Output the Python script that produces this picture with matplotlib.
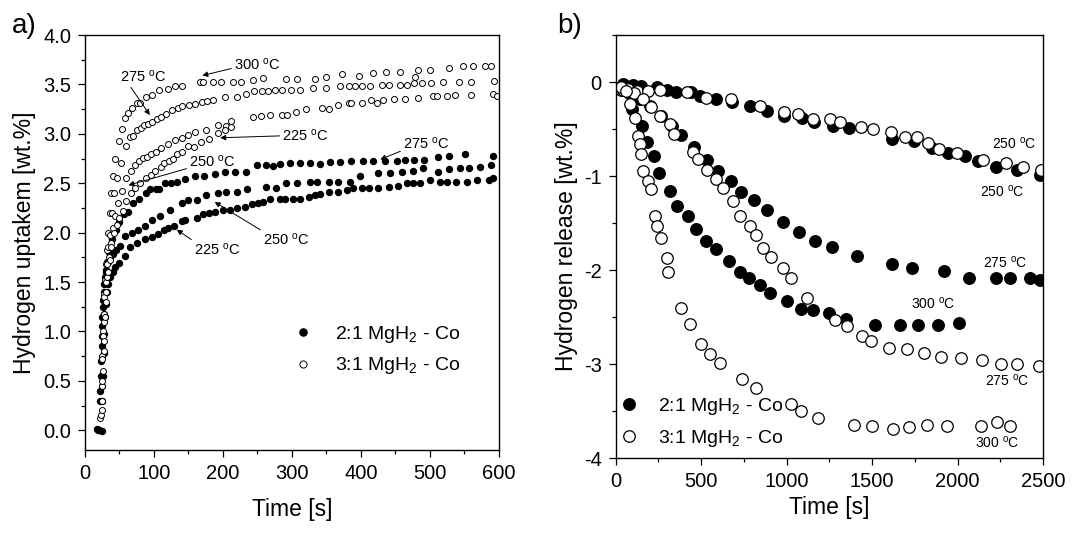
import matplotlib
matplotlib.use("Agg")
import matplotlib.pyplot as plt
from matplotlib.ticker import MultipleLocator

plt.rcParams["font.family"] = ["Liberation Sans", "DejaVu Sans"]
plt.rcParams["mathtext.fontset"] = "custom"
plt.rcParams["mathtext.rm"] = "Liberation Sans"
plt.rcParams["mathtext.it"] = "Liberation Sans:italic"
plt.rcParams["axes.unicode_minus"] = False

# ---- panel a) hydrogen uptake, time [s] vs wt.% ----
f225_t = [18, 21, 24, 25, 26, 27, 28, 29, 30, 32, 34, 36, 40, 43, 50, 58, 65, 75, 87, 97,
          106, 114, 121, 129, 140, 145, 162, 171, 180, 188, 200, 210, 220, 232, 242, 251, 258, 268, 282, 290,
          301, 312, 324, 333, 341, 353, 367, 380, 389, 401, 412, 425, 440, 454, 467, 476, 486, 500, 514, 524,
          538, 553, 568, 585, 592]
f225_v = [0.01, 0.00, -0.01, 0.30, 0.55, 0.78, 0.97, 1.15, 1.28, 1.40, 1.48, 1.55, 1.60, 1.65, 1.69, 1.76, 1.85, 1.89, 1.94, 1.96,
          1.99, 2.03, 2.05, 2.07, 2.12, 2.13, 2.15, 2.19, 2.20, 2.21, 2.23, 2.23, 2.25, 2.26, 2.29, 2.30, 2.31, 2.34, 2.34, 2.34,
          2.34, 2.34, 2.36, 2.38, 2.39, 2.41, 2.41, 2.43, 2.45, 2.45, 2.45, 2.45, 2.46, 2.47, 2.50, 2.50, 2.50, 2.53, 2.51, 2.51,
          2.51, 2.51, 2.53, 2.53, 2.55]

f250_t = [19, 22, 23, 24, 25, 26, 27, 29, 31, 33, 36, 40, 45, 51, 58, 68, 77, 87, 97, 109,
          123, 140, 150, 162, 175, 193, 205, 221, 235, 263, 277, 292, 307, 326, 336, 353, 367, 384, 399, 425,
          442, 459, 476, 490, 511, 527, 543, 557, 572, 588]
f250_v = [0.00, 0.30, 0.55, 0.85, 1.05, 1.25, 1.40, 1.55, 1.62, 1.70, 1.75, 1.78, 1.82, 1.86, 1.97, 2.00, 2.03, 2.07, 2.13, 2.17,
          2.23, 2.30, 2.33, 2.33, 2.38, 2.40, 2.41, 2.41, 2.44, 2.46, 2.45, 2.50, 2.50, 2.51, 2.51, 2.51, 2.51, 2.51, 2.57, 2.60,
          2.60, 2.61, 2.62, 2.65, 2.61, 2.64, 2.65, 2.65, 2.66, 2.68]

f275_t = [20, 22, 23, 24, 25, 26, 28, 30, 32, 35, 39, 45, 50, 57, 63, 70, 79, 88, 94, 103,
          108, 116, 125, 133, 145, 159, 173, 188, 203, 217, 234, 249, 262, 273, 283, 297, 311, 326, 341, 355,
          370, 386, 403, 418, 435, 452, 464, 477, 492, 512, 528, 551, 591]
f275_v = [0.00, 0.40, 0.70, 0.95, 1.15, 1.32, 1.48, 1.60, 1.70, 1.80, 1.94, 2.03, 2.11, 2.19, 2.21, 2.30, 2.34, 2.40, 2.44, 2.44,
          2.44, 2.50, 2.50, 2.51, 2.54, 2.57, 2.57, 2.59, 2.61, 2.61, 2.61, 2.68, 2.68, 2.67, 2.69, 2.70, 2.70, 2.70, 2.69, 2.71,
          2.71, 2.72, 2.72, 2.72, 2.72, 2.72, 2.73, 2.74, 2.74, 2.77, 2.78, 2.80, 2.78]

o300_t = [22, 24, 25, 26, 27, 28, 29, 30, 32, 34, 36, 38, 40, 43, 49, 54, 58, 62, 68, 75,
          80, 89, 97, 108, 120, 130, 140, 167, 171, 186, 197, 214, 226, 243, 258, 292, 307, 333, 350, 373,
          397, 418, 436, 456, 478, 482, 500, 527, 548, 562, 580, 589]
o300_v = [0.12, 0.45, 0.75, 1.00, 1.18, 1.38, 1.52, 1.68, 1.82, 2.00, 2.20, 2.40, 2.57, 2.75, 2.93, 3.05, 3.16, 3.21, 3.26, 3.31,
          3.31, 3.37, 3.39, 3.44, 3.45, 3.48, 3.48, 3.52, 3.52, 3.52, 3.52, 3.52, 3.52, 3.54, 3.57, 3.55, 3.55, 3.55, 3.58, 3.61,
          3.59, 3.62, 3.63, 3.63, 3.58, 3.65, 3.65, 3.67, 3.69, 3.69, 3.69, 3.69]

o275_t = [23, 24, 25, 26, 27, 28, 30, 32, 34, 36, 39, 42, 46, 52, 59, 65, 70, 75, 81, 86,
          92, 97, 104, 110, 117, 126, 135, 141, 151, 159, 169, 177, 186, 203, 221, 233, 245, 256, 265, 275,
          285, 298, 312, 330, 349, 370, 382, 392, 401, 413, 430, 441, 456, 467, 477, 489, 501, 519, 542, 560,
          593]
o275_v = [0.15, 0.45, 0.72, 0.95, 1.18, 1.35, 1.50, 1.68, 1.85, 1.98, 2.20, 2.40, 2.55, 2.70, 2.88, 2.97, 2.98, 3.04, 3.06, 3.09,
          3.10, 3.12, 3.15, 3.17, 3.20, 3.24, 3.26, 3.28, 3.29, 3.30, 3.32, 3.33, 3.34, 3.37, 3.37, 3.40, 3.43, 3.43, 3.43, 3.44,
          3.44, 3.44, 3.44, 3.46, 3.46, 3.48, 3.48, 3.48, 3.48, 3.48, 3.49, 3.49, 3.49, 3.49, 3.51, 3.51, 3.51, 3.52, 3.52, 3.52,
          3.53]

o225_t = [24, 25, 27, 28, 30, 32, 35, 38, 40, 44, 48, 54, 60, 66, 72, 78, 84, 90, 96, 103,
          110, 120, 130, 140, 150, 160, 176, 193, 205, 211, 243, 255, 268, 286, 293, 306, 320, 343, 353, 366,
          383, 386, 401, 415, 423, 432, 448, 464, 482, 504, 510, 525, 536, 560, 592, 597]
o225_v = [0.20, 0.50, 0.80, 1.10, 1.30, 1.55, 1.75, 1.90, 2.05, 2.17, 2.30, 2.42, 2.55, 2.62, 2.68, 2.72, 2.76, 2.77, 2.80, 2.82,
          2.86, 2.90, 2.94, 2.96, 2.99, 3.02, 3.04, 3.09, 3.08, 3.13, 3.17, 3.18, 3.19, 3.19, 3.19, 3.22, 3.25, 3.26, 3.25, 3.29,
          3.31, 3.31, 3.31, 3.34, 3.31, 3.34, 3.35, 3.35, 3.36, 3.38, 3.38, 3.38, 3.39, 3.39, 3.40, 3.38]

o250_t = [25, 26, 28, 29, 31, 33, 36, 38, 42, 46, 50, 55, 60, 66, 72, 80, 88, 95, 102, 110,
          114, 122, 128, 133, 140, 150, 158, 168, 180, 193, 203, 211]
o250_v = [0.30, 0.60, 0.90, 1.15, 1.40, 1.60, 1.72, 1.85, 2.00, 2.08, 2.15, 2.22, 2.32, 2.40, 2.45, 2.50, 2.55, 2.58, 2.62, 2.66,
          2.70, 2.72, 2.75, 2.80, 2.82, 2.88, 2.87, 2.92, 2.95, 3.01, 3.04, 3.07]

# ---- panel b) hydrogen release ----
rf250_t = [45, 60, 72, 100, 150, 244, 302, 355, 439, 491, 589, 682, 784, 883, 985, 1092, 1160, 1273, 1365, 1615,
           1745, 1849, 1944, 2042, 2120, 2227, 2350, 2482]
rf250_v = [-0.02, -0.05, -0.07, -0.03, -0.04, -0.05, -0.08, -0.11, -0.11, -0.15, -0.18, -0.21, -0.25, -0.31, -0.36, -0.38,
           -0.43, -0.47, -0.49, -0.61, -0.63, -0.70, -0.76, -0.79, -0.84, -0.90, -0.94, -0.99]

ro250_t = [30, 45, 72, 127, 191, 259, 415, 530, 673, 844, 985, 1069, 1156, 1254, 1312, 1433, 1507, 1613, 1691, 1765,
           1829, 1891, 1999, 2149, 2282, 2385, 2486]
ro250_v = [-0.08, -0.07, -0.07, -0.10, -0.10, -0.09, -0.11, -0.17, -0.18, -0.26, -0.32, -0.34, -0.39, -0.39, -0.43, -0.48,
           -0.50, -0.53, -0.58, -0.59, -0.65, -0.71, -0.75, -0.83, -0.86, -0.90, -0.94]

rf275_t = [55, 90, 140, 200, 265, 330, 380, 458, 536, 599, 673, 731, 809, 887, 979, 1073, 1166, 1264, 1414, 1619,
           1736, 1921, 2067, 2227, 2305, 2424, 2480]
rf275_v = [-0.05, -0.12, -0.18, -0.26, -0.36, -0.47, -0.56, -0.69, -0.83, -0.95, -1.05, -1.17, -1.25, -1.36, -1.49, -1.60,
           -1.69, -1.76, -1.85, -1.94, -1.98, -2.01, -2.08, -2.08, -2.08, -2.08, -2.11]

ro275_t = [40, 110, 160, 205, 257, 316, 341, 452, 482, 536, 585, 628, 688, 727, 784, 819, 864, 907, 979, 1024,
           1121, 1281, 1351, 1439, 1495, 1598, 1706, 1804, 1901, 2018, 2145, 2252, 2350, 2477]
ro275_v = [-0.09, -0.12, -0.18, -0.27, -0.36, -0.45, -0.55, -0.74, -0.82, -0.94, -1.03, -1.13, -1.27, -1.42, -1.53, -1.63,
           -1.77, -1.86, -1.98, -2.08, -2.30, -2.53, -2.60, -2.70, -2.75, -2.83, -2.84, -2.88, -2.92, -2.94, -2.96, -3.00,
           -3.00, -3.02]

rf300_t = [50, 75, 97, 152, 182, 223, 256, 316, 359, 423, 470, 526, 588, 663, 728, 781, 844, 900, 1003, 1084,
           1156, 1248, 1346, 1517, 1663, 1771, 1888, 2009]
rf300_v = [-0.03, -0.12, -0.29, -0.47, -0.64, -0.79, -0.97, -1.16, -1.32, -1.42, -1.56, -1.69, -1.78, -1.90, -2.02, -2.09,
           -2.16, -2.24, -2.33, -2.41, -2.42, -2.46, -2.52, -2.59, -2.59, -2.59, -2.59, -2.56]

ro300_t = [29, 60, 84, 111, 131, 140, 150, 160, 191, 205, 228, 244, 263, 298, 308, 384, 433, 501, 552, 610,
           737, 823, 1024, 1082, 1186, 1394, 1502, 1625, 1715, 1823, 1936, 2135, 2233, 2307]
ro300_v = [-0.05, -0.10, -0.23, -0.38, -0.57, -0.66, -0.77, -0.95, -1.05, -1.14, -1.43, -1.53, -1.66, -1.87, -2.02, -2.40,
           -2.57, -2.79, -2.89, -2.99, -3.16, -3.25, -3.43, -3.50, -3.57, -3.65, -3.66, -3.69, -3.67, -3.65, -3.66, -3.66,
           -3.62, -3.66]

LBL_21 = "2:1 MgH$_2$ - Co"
LBL_31 = "3:1 MgH$_2$ - Co"
DEG = " $^{\\mathrm{o}}$C"


def style_axis(ax, xmaj, xmin, ymaj, ymin):
    ax.xaxis.set_major_locator(MultipleLocator(xmaj))
    ax.xaxis.set_minor_locator(MultipleLocator(xmin))
    ax.yaxis.set_major_locator(MultipleLocator(ymaj))
    ax.yaxis.set_minor_locator(MultipleLocator(ymin))
    ax.tick_params(which="both", direction="out", top=False, right=False, width=0.9)
    ax.tick_params(which="major", length=5, labelsize=14.5, pad=5)
    ax.tick_params(which="minor", length=3)
    for s in ax.spines.values():
        s.set_linewidth(1.0)


fig = plt.figure(figsize=(10.88, 5.43), dpi=100)
ax1 = fig.add_axes([0.0781, 0.1713, 0.3805, 0.7642])
ax2 = fig.add_axes([0.5659, 0.1565, 0.3927, 0.779])

# panel a
ms_a = 4.3
ax1.plot(f225_t, f225_v, "o", ms=ms_a, color="black", label=LBL_21)
ax1.plot(f250_t, f250_v, "o", ms=ms_a, color="black")
ax1.plot(f275_t, f275_v, "o", ms=ms_a, color="black")
open_a = dict(ms=ms_a, mfc="white", mec="black", mew=0.7, ls="none", marker="o")
ax1.plot(o300_t, o300_v, label=LBL_31, **open_a)
ax1.plot(o275_t, o275_v, **open_a)
ax1.plot(o225_t, o225_v, **open_a)
ax1.plot(o250_t, o250_v, **open_a)

ax1.set_xlim(0, 600)
ax1.set_ylim(-0.2, 4.0)
style_axis(ax1, 100, 50, 0.5, 0.25)
ax1.yaxis.set_major_formatter(matplotlib.ticker.FormatStrFormatter("%.1f"))
ax1.set_xlabel("Time [s]", fontsize=16.5, labelpad=11)
ax1.set_ylabel("Hydrogen uptakem [wt.%]", fontsize=16.5, labelpad=5)

arrow = dict(arrowstyle="-|>", color="black", lw=0.7, mutation_scale=8, shrinkA=0, shrinkB=0)
notes_a = [
    ("300", (250, 3.70), (170, 3.59), (0.0, 0.3)),
    ("275", (84, 3.58), (94, 3.19), (0.2, 0.0)),
    ("225", (320, 2.98), (196, 2.96), (0.0, 0.5)),
    ("250", (185, 2.72), (63, 2.48), (0.0, 0.1)),
    ("275", (495, 2.90), (428, 2.74), (0.0, 0.1)),
    ("250", (292, 1.93), (188, 2.31), (0.0, 1.0)),
    ("225", (192, 1.83), (133, 2.03), (0.0, 1.0)),
]
for txt, pos, head, rel in notes_a:
    ax1.annotate(txt + DEG, xy=head, xytext=pos, ha="center", va="center", fontsize=10.5,
                 arrowprops=dict(arrow, relpos=rel))

ax1.legend(loc="center left", bbox_to_anchor=(0.503, 0.241), frameon=False, fontsize=14,
           handlelength=1.0, handletextpad=1.15, borderpad=0, borderaxespad=0, labelspacing=0.55,
           markerscale=1.2)

# panel b
ms_b = 8.3
ax2.plot(rf250_t, rf250_v, "o", ms=ms_b, color="black", label=LBL_21)
ax2.plot(rf275_t, rf275_v, "o", ms=ms_b, color="black")
ax2.plot(rf300_t, rf300_v, "o", ms=ms_b, color="black")
open_b = dict(ms=ms_b, mfc="white", mec="black", mew=0.9, ls="none", marker="o")
ax2.plot(ro250_t, ro250_v, label=LBL_31, **open_b)
ax2.plot(ro275_t, ro275_v, **open_b)
ax2.plot(ro300_t, ro300_v, **open_b)

ax2.set_xlim(0, 2500)
ax2.set_ylim(-4, 0.5)
style_axis(ax2, 500, 250, 1, 0.5)
ax2.set_xlabel("Time [s]", fontsize=16.5, labelpad=4)
ax2.set_ylabel("Hydrogen release [wt.%]", fontsize=16.5, labelpad=4)

notes_b = [("250", 2330, -0.65), ("250", 2262, -1.17), ("275", 2282, -1.92),
           ("300", 1858, -2.36), ("275", 2291, -3.18), ("300", 2233, -3.84)]
for txt, x, y in notes_b:
    ax2.text(x, y, txt + DEG, ha="center", va="center", fontsize=10)

ax2.legend(loc="center left", bbox_to_anchor=(0.008, 0.0844), frameon=False, fontsize=14,
           handlelength=1.0, handletextpad=1.0, borderpad=0, borderaxespad=0, labelspacing=0.55)

fig.text(0.011, 0.953, "a)", fontsize=20, va="center")
fig.text(0.512, 0.953, "b)", fontsize=20, va="center")

fig.savefig("out.png", dpi=100)
